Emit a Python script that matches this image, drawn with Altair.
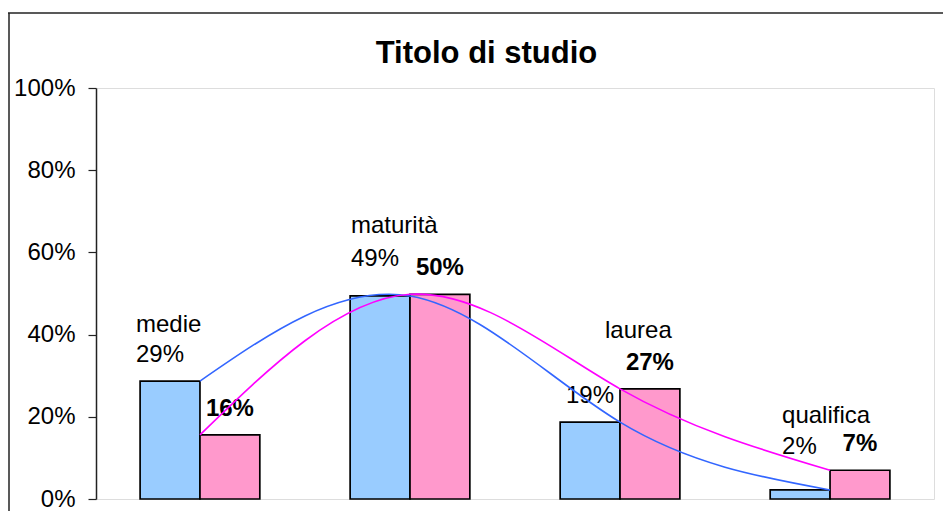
import altair as alt
import pandas as pd

# ---- data ----
categories = ["medie", "maturità", "laurea", "qualifica"]
series = ["Serie 1", "Serie 2"]
blue_values = [0.287, 0.494, 0.187, 0.022]
pink_values = [0.156, 0.498, 0.268, 0.070]
y_ticks = [0, 0.2, 0.4, 0.6, 0.8, 1.0]
title_text = "Titolo di studio"

# ---- label layout (pixel offsets from group centre / bar top) ----
name_dx = [-64, -59, -15, -48]
name_dy = [-49, -63, -84, -67]
value_dx = [-64, -59, -54, -48]
value_dy = [-19, -30, -19, -36]
pink_dy = -19

FONT = "Liberation Sans"
BLUE_FILL, PINK_FILL = "#99CCFF", "#FF99CC"
BLUE_LINE, PINK_LINE = "#3366FF", "#FF00FF"
W, H = 838, 411

rows = []
for i, (c, b, p) in enumerate(zip(categories, blue_values, pink_values)):
    rows.append({"idx": i, "cat": c, "serie": series[0], "val": b})
    rows.append({"idx": i, "cat": c, "serie": series[1], "val": p})
df = pd.DataFrame(rows)
df["label"] = [f"{round(v * 100)}%" for v in df["val"]]

x_enc = alt.X("cat:N", sort=categories,
              scale=alt.Scale(domain=categories, paddingInner=0.43, paddingOuter=0.21),
              axis=None)
xoff_enc = alt.XOffset("serie:N", sort=series,
                       scale=alt.Scale(domain=series, paddingInner=0, paddingOuter=0))
y_enc = alt.Y("val:Q", scale=alt.Scale(domain=[0, 1]),
              axis=alt.Axis(values=y_ticks, format=".0%", title=None, grid=False,
                            labelFont=FONT, labelFontSize=24, labelColor="black",
                            tickSize=8, tickColor="#222", tickWidth=1.2,
                            domainColor="#222", domainWidth=1.5, labelPadding=13))

base = alt.Chart(df)

bars = base.mark_bar(stroke="black", strokeWidth=1.7).encode(
    x=x_enc, xOffset=xoff_enc, y=y_enc,
    fill=alt.Fill("serie:N", scale=alt.Scale(domain=series, range=[BLUE_FILL, PINK_FILL]),
                  legend=None),
)

lines = base.mark_line(interpolate="natural", strokeWidth=1.6).encode(
    x=x_enc, y=alt.Y("val:Q"),
    stroke=alt.Stroke("serie:N", scale=alt.Scale(domain=series, range=[BLUE_LINE, PINK_LINE]),
                      legend=None),
    order=alt.Order("idx:Q"),
)

pink_labels = base.transform_filter(alt.datum.serie == series[1]).mark_text(
    font=FONT, fontSize=24, fontWeight="bold", color="black",
    align="center", baseline="alphabetic", dy=pink_dy,
).encode(x=x_enc, xOffset=xoff_enc, y=alt.Y("val:Q"), text="label:N")

blue_layers = []
for i, c in enumerate(categories):
    sub = base.transform_filter((alt.datum.serie == series[0]) & (alt.datum.cat == c))
    blue_layers.append(sub.mark_text(
        font=FONT, fontSize=24, color="black", align="left", baseline="alphabetic",
        dx=name_dx[i], dy=name_dy[i]).encode(x=x_enc, y=alt.Y("val:Q"), text="cat:N"))
    blue_layers.append(sub.mark_text(
        font=FONT, fontSize=24, color="black", align="left", baseline="alphabetic",
        dx=value_dx[i], dy=value_dy[i]).encode(x=x_enc, y=alt.Y("val:Q"), text="label:N"))

one = pd.DataFrame({"title": [title_text]})
frame_top = alt.Chart(one).mark_rule(color="#222", strokeWidth=1.5).encode(
    x=alt.value(-88), x2=alt.value(W + 30), y=alt.value(-75))
frame_left = alt.Chart(one).mark_rule(color="#222", strokeWidth=1.5).encode(
    x=alt.value(-87), y=alt.value(-75), y2=alt.value(H + 30))
title = alt.Chart(one).mark_text(
    font=FONT, fontSize=31, fontWeight="bold", color="black",
    align="center", baseline="alphabetic",
).encode(x=alt.value(W / 2 - 28.5), y=alt.value(-25), text="title:N")

chart = alt.layer(
    frame_top, frame_left, title, bars, *blue_layers, pink_labels, lines
).properties(
    width=W, height=H,
    autosize=alt.AutoSizeParams(type="none"),
    padding={"left": 88, "top": 80, "right": 9, "bottom": 12},
).configure_view(
    stroke="#bfbfbf", strokeWidth=1.5
).configure(background="white")

chart.save("out.html", embed_options={"renderer": "svg", "actions": False})
